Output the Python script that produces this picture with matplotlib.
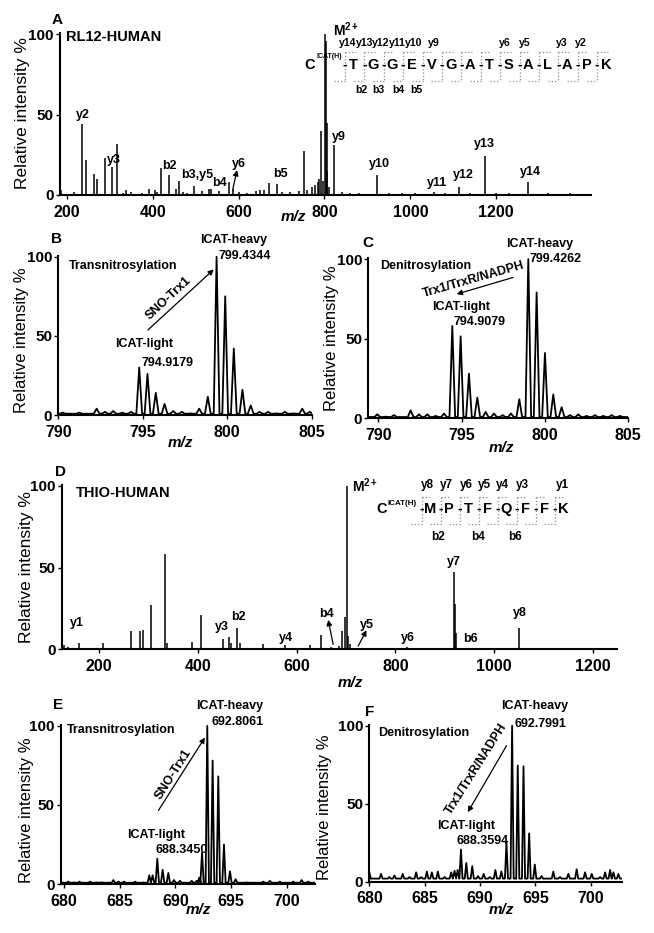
import matplotlib
matplotlib.use("Agg")
import matplotlib.pyplot as plt

plt.rcParams['font.family'] = ['Liberation Sans', 'DejaVu Sans']
plt.rcParams['mathtext.fontset'] = 'custom'
plt.rcParams['mathtext.rm'] = 'Liberation Sans'
plt.rcParams['mathtext.bf'] = 'Liberation Sans:bold'
plt.rcParams['mathtext.it'] = 'Liberation Sans:italic'

# ---------------- data ----------------
# Panel A: RL12-HUMAN MS/MS (stick spectrum)
a_mz = [186, 217, 234.5, 244, 263.5, 270, 287.5, 306, 316, 330, 337.5, 350, 375, 390.5, 405, 410,
        419.5, 437, 453, 460, 470, 480, 496.5, 515, 530, 535, 554, 576.5, 586, 600, 620, 640,
        650.5, 660, 670, 689, 700, 720, 740, 752, 760, 770, 778, 785.5, 788, 793, 797, 802,
        803.5, 805, 807, 810, 821, 840, 860, 880, 922, 950, 980, 1010, 1055, 1080, 1113, 1140,
        1173, 1200, 1230, 1275, 1320, 1372.5]
a_int = [3, 2, 44, 22, 13, 10, 23, 17.5, 32, 1.5, 3, 2, 1, 3.5, 3, 2,
         17, 12.5, 4, 9, 2, 1.5, 5.5, 2.5, 4, 3.5, 2.5, 8, 4, 2, 1.5, 2.5,
         3, 3, 7.5, 7, 2, 2, 2.5, 27.5, 3, 5, 6, 8, 10, 40, 9, 100,
         96, 45, 15, 5, 31, 2, 1.5, 1, 12.5, 1.5, 1, 1, 2, 1.5, 5, 1,
         24, 1, 1, 8, 1, 1.5]
a_ion_labels = ['y2', 'y3', 'b2', 'b3,y5', 'b4', 'y6', 'b5', 'y9', 'y10', 'y11', 'y12', 'y13', 'y14']
a_residues = ['T', 'G', 'G', 'E', 'V', 'G', 'A', 'T', 'S', 'A', 'L', 'A', 'P', 'K']
a_seq_y = ['y14', 'y13', 'y12', 'y11', 'y10', 'y9', 'y6', 'y5', 'y3', 'y2']
a_seq_b = ['b2', 'b3', 'b4', 'b5']

# Panel B: transnitrosylation, RL12 precursor region
b_mz = [790.26, 790.75, 791.24, 792.27, 792.76, 793.25, 793.79, 794.3, 794.79, 795.28, 795.77,
        796.29, 796.8, 797.31, 797.83, 798.34, 798.85, 799.37, 799.88, 800.39, 800.9, 801.39,
        801.91, 802.42, 802.92, 803.41, 803.91, 804.44, 804.89]
b_int = [1.5, 0.5, 1.5, 4, 2, 2.5, 1.5, 2, 30, 26, 14, 7, 2.5, 2, 1, 4, 11.5, 100, 75, 42, 16, 6,
         2, 2, 1, 2, 1, 4, 2]

# Panel C: denitrosylation, RL12 precursor region
c_mz = [789.94, 790.44, 790.94, 791.94, 792.44, 792.94, 793.44, 793.94, 794.44, 794.94, 795.44,
        795.94, 796.44, 796.94, 797.46, 797.96, 798.46, 799.0, 799.5, 800.0, 800.5, 801.0,
        801.5, 802.0, 802.5, 803.0, 803.5, 804.0, 804.5]
c_int = [2.5, 1, 2, 5, 2.5, 2.5, 1.5, 3, 58, 51.5, 28, 13, 4, 3, 2, 3, 12, 100, 79, 41, 15, 7,
         2, 2.5, 1.5, 2, 1.5, 2, 1.5]

# Panel D: THIO-HUMAN MS/MS (stick spectrum)
d_mz = [130, 138, 159.5, 180.5, 208.4, 265, 282, 290, 305.5, 334, 337, 389, 407, 450.6, 463,
        467.4, 480, 486, 532, 545, 555, 577, 610, 627.7, 649, 670, 685, 691, 698, 701.6, 705,
        708, 724.7, 775.5, 824.5, 902, 919, 921, 923, 950, 1050.6, 1193]
d_int = [2.6, 1.6, 4, 1, 4, 11.4, 11, 12, 27, 58, 4, 4.7, 21, 6, 7.3,
         4, 13, 4, 3, 1, 1, 2.6, 1, 2.6, 9, 1.5, 2, 11.4, 20, 100, 8,
         3, 1, 1, 1.6, 1, 47, 28, 10, 1, 13, 1]
d_ion_labels = ['y1', 'y3', 'b2', 'y4', 'b4', 'y5', 'y6', 'y7', 'b6', 'y8']
d_residues = ['M', 'P', 'T', 'F', 'Q', 'F', 'F', 'K']
d_seq_y = ['y8', 'y7', 'y6', 'y5', 'y4', 'y3', 'y1']
d_seq_b = ['b2', 'b4', 'b6']

# Panel E: transnitrosylation, THIO precursor region
e_mz = [680.39, 680.9, 681.38, 682.34, 682.93, 683.38, 684.43, 684.88, 685.39, 686.38, 687.13,
        687.66, 687.96, 688.38, 688.86, 689.37, 689.88, 690.42, 691.47, 691.92, 692.15, 692.4,
        692.87, 693.35, 693.86, 694.37, 694.91, 695.42, 696.41, 697.9, 698.5, 699.4, 700.6,
        701.35, 701.95]
e_int = [1.5, 1, 1.5, 1.5, 1, 1, 2.5, 1.5, 1.5, 1.5, 1,
         5.5, 5.5, 16, 9, 7, 2.5, 2, 2, 2, 4, 20,
         100, 78, 68, 25, 8, 3, 1, 1.5, 2, 1.5, 1.5,
         2.5, 1.5]

# Panel F: denitrosylation, THIO precursor region
f_mz = [680.0, 681.06, 681.81, 682.27, 683.02, 683.63, 684.23, 684.68, 685.2, 685.65, 686.19,
        686.8, 687.4, 687.7, 687.98, 688.28, 688.76, 689.3, 689.82, 690.33, 690.88, 691.39,
        691.93, 692.39, 692.9, 693.41, 693.93, 694.44, 694.95, 695.56, 696.62, 697.22, 697.98,
        698.73, 699.49, 700.09, 700.85, 701.3, 701.75, 702.05, 702.5]
f_int = [6, 5, 3, 4, 5, 3, 6, 3, 6.5, 6, 6.5,
         3, 6, 7, 7.5, 20.6, 12, 10, 3.6, 5, 3, 7.5,
         6.5, 25, 100, 74.5, 74, 31, 11, 3.6, 6.5, 3, 5,
         8, 6, 5, 3, 6, 7.5, 6, 5]
f_noise_floor = 2.0

mz_ticks_wide = [200, 400, 600, 800, 1000, 1200]
mz_ticks_b = [790, 795, 800, 805]
mz_ticks_e = [680, 685, 690, 695, 700]
int_ticks = [0, 50, 100]

# ---------------- layout ----------------
W, H = 654, 933
fig = plt.figure(figsize=(W / 100, H / 100), dpi=100)
fig.patch.set_facecolor('white')

ov = fig.add_axes([0, 0, 1, 1])
ov.set_xlim(0, W)
ov.set_ylim(H, 0)
ov.axis('off')
ov.patch.set_alpha(0)


def px_axes(l, t, r, b):
    ax = fig.add_axes([l / W, 1 - b / H, (r - l) / W, (b - t) / H])
    ax.patch.set_visible(False)
    return ax


def style(ax, xlim, xticks):
    ax.set_xlim(*xlim)
    ax.set_ylim(0, 100.5)
    ax.set_xticks(xticks)
    ax.set_yticks(int_ticks)
    for s in ['top', 'right']:
        ax.spines[s].set_visible(False)
    for s in ['left', 'bottom']:
        ax.spines[s].set_linewidth(1.5)
    ax.tick_params(axis='both', direction='out', length=3, width=1)
    ax.tick_params(axis='x', pad=4.0, labelsize=11.5)
    ax.tick_params(axis='y', pad=1.5, labelsize=11)
    for t in ax.get_xticklabels() + ax.get_yticklabels():
        t.set_fontweight('bold')


def profile(centers, heights, hw, base, xlim):
    xs, ys = [xlim[0]], [base]
    for c, h in sorted(zip(centers, heights)):
        xs += [c - hw, c, c + hw]
        ys += [base, max(h, base), base]
    xs.append(xlim[1])
    ys.append(base)
    return xs, ys


def ylabel(x, y, size=12):
    ov.text(x, y, 'Relative intensity %', rotation=90, ha='center', va='center', fontsize=size)


def xlabel(x, y):
    ov.text(x, y, 'm/z', ha='center', va='center', fontsize=11, fontweight='bold', style='italic')


def letter(x, y, s):
    ov.text(x, y, s, ha='center', va='center', fontsize=11, fontweight='bold')


TXT = dict(fontsize=9, fontweight='bold')
ARW = dict(arrowstyle='-|>', lw=0.9, color='black', mutation_scale=8, shrinkA=0, shrinkB=0)


def sequence(x0, step, y_row, y_top, y_bot, residues, y_names, y_xs, y_ly, b_names, b_xs, b_ly,
             sup_left, sup_y, sup_size, c_x, lab_size):
    hook = 0.55 * step
    for i, res in enumerate(residues):
        dx = x0 + i * step
        ov.plot([dx, dx], [y_top, y_bot], ls=':', color='#8a8a8a', lw=0.9)
        ov.plot([dx, dx + hook], [y_top, y_top], ls=':', color='#8a8a8a', lw=0.9)
        ov.plot([dx - hook, dx], [y_bot, y_bot], ls=':', color='#8a8a8a', lw=0.9)
        ov.text(dx, y_row, '-', ha='center', va='center', fontsize=10, fontweight='bold')
        ov.text(dx + 0.45 * step, y_row, res, ha='center', va='center', fontsize=10.5, fontweight='bold')
    for name, x in zip(y_names, y_xs):
        ov.text(x, y_ly, name, ha='center', va='center', fontsize=lab_size, fontweight='bold')
    for name, x in zip(b_names, b_xs):
        ov.text(x, b_ly, name, ha='center', va='center', fontsize=lab_size, fontweight='bold')
    ov.text(c_x, y_row, 'C', ha='center', va='center', fontsize=10.5, fontweight='bold')
    ov.text(sup_left, sup_y, 'ICAT(H)', ha='left', va='center', fontsize=sup_size, fontweight='bold')


# ---------------- Panel A ----------------
axA = px_axes(60, 33.3, 591, 195)
xlimA = (183.7, 1421)
style(axA, xlimA, mz_ticks_wide)
axA.vlines(a_mz, 0, a_int, color='black', lw=1.1)
a_lab_mz = [236, 308.6, 438.7, 504, 556, 600.5, 696.5, 833.6, 928, 1063, 1122.6, 1172.8, 1279.7]
a_lab_int = [50, 21.6, 18, 12.4, 7.6, 19, 13, 36, 19, 7.6, 12.4, 31.5, 14]
for s, x, y in zip(a_ion_labels, a_lab_mz, a_lab_int):
    axA.text(x, y, s, ha='center', va='center', **TXT)
axA.annotate('', xy=(596, 15.5), xytext=(586, 3), arrowprops=ARW, annotation_clip=False)
axA.text(819, 102.7, r'M$^{\mathbf{2+}}$', ha='left', va='center', fontsize=10, fontweight='bold')
letter(57, 20, 'A')
ov.text(66, 36.7, 'RL12-HUMAN', ha='left', va='center', fontsize=10.5, fontweight='bold')
ylabel(22.7, 113.3, 12.5)
xlabel(293.4, 216.7)
sequence(345, 19.4, 65, 51.7, 80.7, a_residues, a_seq_y,
         [348.0, 364.5, 381.0, 397.5, 414, 433.5, 505, 525, 561.5, 580.5], 43,
         a_seq_b, [361, 378.5, 398.5, 416.5], 90, 316.5, 56.7, 5.0, 310, 7.6)

# ---------------- Panel B ----------------
axB = px_axes(58.3, 256, 311.7, 415)
xlimB = (790, 805)
style(axB, xlimB, mz_ticks_b)
xs, ys = profile(b_mz, b_int, 0.17, 0.8, xlimB)
axB.plot(xs, ys, color='black', lw=1.3)
axB.text(790.6, 94.3, 'Transnitrosylation', ha='left', va='center', **TXT)
axB.text(800.4, 110.5, 'ICAT-heavy', ha='center', va='center', **TXT)
axB.text(799.5, 100.6, '799.4344', ha='left', va='center', **TXT)
axB.text(795.1, 45, 'ICAT-light', ha='center', va='center', **TXT)
axB.text(794.93, 33, '794.9179', ha='left', va='center', **TXT)
axB.annotate('', xy=(799.2, 92), xytext=(795.3, 53.7), arrowprops=ARW, annotation_clip=False)
axB.text(796.5, 74, 'SNO-Trx1', rotation=43, ha='center', va='center', rotation_mode='anchor', **TXT)
letter(56.7, 239.3, 'B')
ylabel(21.7, 340)
xlabel(180, 443.3)

# ---------------- Panel C ----------------
axC = px_axes(368.3, 258.3, 628.3, 418.3)
xlimC = (789.4, 805)
style(axC, xlimC, mz_ticks_b)
xs, ys = profile(c_mz, c_int, 0.17, 0.8, xlimC)
axC.plot(xs, ys, color='black', lw=1.3)
axC.text(790.1, 95.8, 'Denitrosylation', ha='left', va='center', **TXT)
axC.text(799.7, 109.7, 'ICAT-heavy', ha='center', va='center', **TXT)
axC.text(799.1, 100, '799.4262', ha='left', va='center', **TXT)
axC.text(794.95, 70, 'ICAT-light', ha='center', va='center', **TXT)
axC.text(794.5, 60.4, '794.9079', ha='left', va='center', **TXT)
axC.annotate('', xy=(794.7, 78), xytext=(798.1, 88.5), arrowprops=ARW, annotation_clip=False)
axC.text(795.74, 87, 'Trx1/TrxR/NADPH', rotation=16, ha='center', va='center', rotation_mode='anchor', **TXT)
letter(368.3, 243.3, 'C')
ylabel(331.7, 338)
xlabel(501.7, 448)

# ---------------- Panel D ----------------
axD = px_axes(61.7, 485, 616.7, 649.3)
xlimD = (124.5, 1248)
style(axD, xlimD, mz_ticks_wide)
axD.vlines(d_mz, 0, d_int, color='black', lw=1.1)
d_lab_mz = [155, 448, 482.7, 579.5, 661.5, 741.5, 826, 919, 952.6, 1051.4]
d_lab_int = [15.8, 13.8, 19.8, 7, 21.3, 14.8, 6.7, 53.3, 6.3, 21.9]
for s, x, y in zip(d_ion_labels, d_lab_mz, d_lab_int):
    axD.text(x, y, s, ha='center', va='center', **TXT)
axD.annotate('', xy=(664, 18), xytext=(674, 3), arrowprops=ARW, annotation_clip=False)
axD.annotate('', xy=(741.5, 11.7), xytext=(724.7, 2), arrowprops=ARW, annotation_clip=False)
axD.text(712, 100, r'M$^{\mathbf{2+}}$', ha='left', va='center', fontsize=10, fontweight='bold')
letter(61, 471.7, 'D')
ov.text(75.6, 493.3, 'THIO-HUMAN', ha='left', va='center', fontsize=10.5, fontweight='bold')
ylabel(27, 566.7, 12.5)
xlabel(350, 683.3)
sequence(421.7, 19.0, 509, 497, 524, d_residues, d_seq_y,
         [427, 446, 466, 484, 502, 522, 562], 485,
         d_seq_b, [438.3, 478.3, 515], 536.7, 388, 503.3, 5.8, 381.3, 8.5)

# ---------------- Panel E ----------------
axE = px_axes(60.7, 725, 315, 884)
xlimE = (679.7, 702.55)
style(axE, xlimE, mz_ticks_e)
xs, ys = profile(e_mz, e_int, 0.15, 0.8, xlimE)
axE.plot(xs, ys, color='black', lw=1.3)
axE.text(680.25, 97.3, 'Transnitrosylation', ha='left', va='center', **TXT)
axE.text(694.84, 112.6, 'ICAT-heavy', ha='center', va='center', **TXT)
axE.text(693.26, 102.5, '692.8061', ha='left', va='center', **TXT)
axE.text(688.3, 30.8, 'ICAT-light', ha='center', va='center', **TXT)
axE.text(688.2, 21.4, '688.3450', ha='left', va='center', **TXT)
axE.annotate('', xy=(692.66, 92.6), xytext=(688.48, 46.5), arrowprops=ARW, annotation_clip=False)
axE.text(689.8, 69.4, 'SNO-Trx1', rotation=57.5, ha='center', va='center', rotation_mode='anchor', **TXT)
letter(58.3, 705, 'E')
ylabel(26.7, 810)
xlabel(198.3, 910)

# ---------------- Panel F ----------------
axF = px_axes(369.3, 725, 621.7, 881.7)
xlimF = (680, 702.8)
style(axF, xlimF, mz_ticks_e)
xs, ys = profile(f_mz, f_int, 0.14, f_noise_floor, xlimF)
axF.plot(xs, ys, color='black', lw=1.3)
axF.text(680.76, 95.4, 'Denitrosylation', ha='left', va='center', **TXT)
axF.text(694.9, 113, 'ICAT-heavy', ha='center', va='center', **TXT)
axF.text(693.15, 101, '692.7991', ha='left', va='center', **TXT)
axF.text(688.77, 36, 'ICAT-light', ha='center', va='center', **TXT)
axF.text(687.85, 26.1, '688.3594', ha='left', va='center', **TXT)
axF.annotate('', xy=(688.9, 44.6), xytext=(692.4, 87.3), arrowprops=ARW, annotation_clip=False)
axF.text(689.67, 72.3, 'Trx1/TrxR/NADPH', rotation=57.8, ha='center', va='center', rotation_mode='anchor', **TXT)
letter(369.3, 711.7, 'F')
ylabel(325, 806.7)
xlabel(501.7, 910)

fig.savefig('out.png', dpi=100, facecolor='white')
